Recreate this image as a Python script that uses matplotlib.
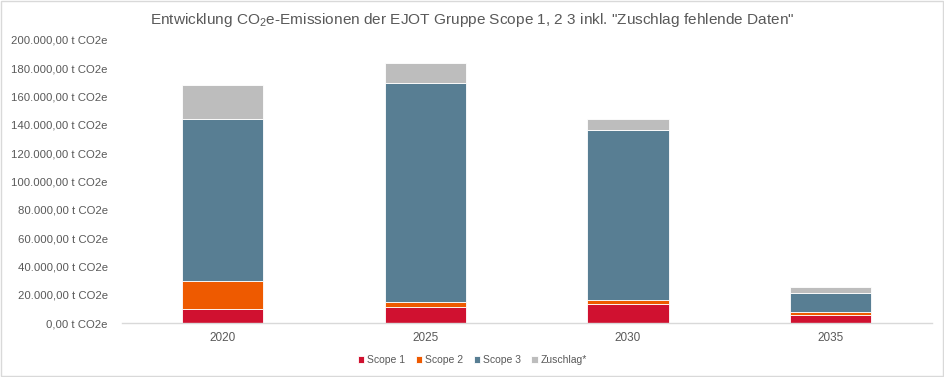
import numpy as np
import matplotlib.pyplot as plt
from matplotlib.patches import Rectangle
from matplotlib.ticker import FuncFormatter

plt.rcParams['font.family'] = ['Liberation Sans', 'DejaVu Sans']
plt.rcParams['mathtext.fontset'] = 'custom'
plt.rcParams['mathtext.rm'] = 'Liberation Sans'

years = ['2020', '2025', '2030', '2035']
scope1 = [9900, 11500, 13600, 6100]
scope2 = [19700, 3500, 2600, 1900]
scope3 = [114900, 154900, 120500, 13200]
zuschlag = [23700, 13900, 7800, 4400]

series = [('Scope 1', scope1, '#D01130'),
          ('Scope 2', scope2, '#EE5A00'),
          ('Scope 3', scope3, '#587E93'),
          ('Zuschlag*', zuschlag, '#BDBDBD')]

txt = '#595959'

fig = plt.figure(figsize=(9.45, 3.77), dpi=100)
ax = fig.add_axes([0.1288, 0.1424, 0.8572, 0.7516])

x = np.arange(len(years))
bottom = np.zeros(len(years))
for name, vals, col in series:
    ax.bar(x, vals, 0.4, bottom=bottom, color=col, label=name,
           edgecolor='white', linewidth=0.6)
    bottom += np.array(vals)

ax.set_xlim(-0.5, len(years) - 0.5)
ax.set_ylim(0, 200000)
ax.set_yticks(np.arange(0, 200001, 20000))


def fmt(v, pos):
    s = f"{v:,.2f}".replace(',', 'X').replace('.', ',').replace('X', '.')
    return s + ' t CO2e'


ax.yaxis.set_major_formatter(FuncFormatter(fmt))
ax.set_xticks(x)
ax.set_xticklabels(years)
ax.tick_params(axis='y', length=0, pad=10, labelsize=8.2, labelcolor=txt)
ax.tick_params(axis='x', length=0, pad=6, labelsize=8.5, labelcolor=txt)
for side in ['top', 'right', 'left']:
    ax.spines[side].set_visible(False)
ax.spines['bottom'].set_color('#D9D9D9')
ax.spines['bottom'].set_linewidth(1)

fig.text(0.5, 0.948, 'Entwicklung CO$_2$e-Emissionen der EJOT Gruppe Scope 1, 2 3 inkl. "Zuschlag fehlende Daten"',
         ha='center', va='center', fontsize=11.1, color=txt)

fig.legend(loc='center', bbox_to_anchor=(0.5, 0.045), ncol=4, frameon=False,
           fontsize=7.5, labelcolor=txt, handlelength=0.6, handleheight=0.6,
           handletextpad=0.3, columnspacing=1.0)

fig.patches.append(Rectangle((0.001, 0.002), 0.997, 0.995, transform=fig.transFigure,
                             fill=False, edgecolor='#D9D9D9', linewidth=1))

fig.savefig('out.png', dpi=100)
